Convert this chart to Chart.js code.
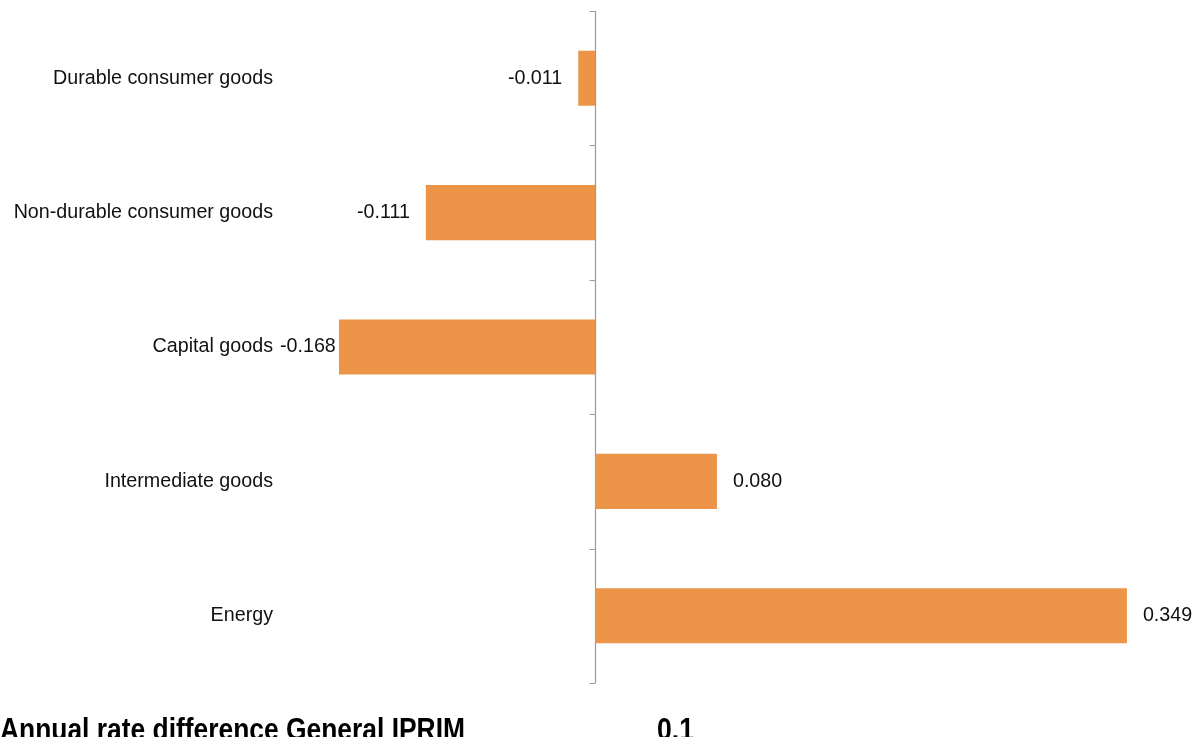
<!DOCTYPE html>
<html>
<head>
<meta charset="utf-8">
<script src="https://cdn.jsdelivr.net/npm/chart.js@4/dist/chart.umd.min.js"></script>
<style>
  html, body { margin: 0; padding: 0; background: #ffffff; overflow: hidden; }
  #wrap { position: relative; width: 1199px; height: 737px; }
</style>
</head>
<body>
<div id="wrap"><canvas id="c"></canvas></div>
<script>
// ---- data ----
const categories = [
  "Durable consumer goods",
  "Non-durable consumer goods",
  "Capital goods",
  "Intermediate goods",
  "Energy"
];
const values = [-0.011, -0.111, -0.168, 0.080, 0.349];
const footerLabel = "Annual rate difference General IPRIM";
const footerValue = "0.1";

const BAR_COLOR = "#EC9447";
const TEXT_FONT = "Liberation Sans, Arial, sans-serif";
const LABEL_SIZE = 19.7;

const zeroAxisPlugin = {
  id: "zeroAxis",
  beforeDatasetsDraw(chart) {
    const { ctx, chartArea, scales } = chart;
    const x0 = Math.round(scales.x.getPixelForValue(0)) + 0.5;
    ctx.save();
    ctx.strokeStyle = "#9a9a9a";
    ctx.lineWidth = 1.2;
    ctx.beginPath();
    ctx.moveTo(x0, chartArea.top);
    ctx.lineTo(x0, chartArea.bottom);
    const n = categories.length;
    const step = (chartArea.bottom - chartArea.top) / n;
    for (let i = 0; i <= n; i++) {
      const y = Math.round(chartArea.top + i * step) + 0.5;
      ctx.moveTo(x0 - 6, y);
      ctx.lineTo(x0, y);
    }
    ctx.stroke();
    ctx.restore();
  }
};

const valueLabelPlugin = {
  id: "valueLabels",
  afterDatasetsDraw(chart) {
    const { ctx, chartArea } = chart;
    const meta = chart.getDatasetMeta(0);
    ctx.save();
    ctx.font = LABEL_SIZE + "px " + TEXT_FONT;
    ctx.fillStyle = "#111111";
    ctx.textBaseline = "middle";
    const gap = 16;
    meta.data.forEach((bar, i) => {
      const v = values[i];
      const txt = v.toFixed(3);
      const w = ctx.measureText(txt).width;
      let xLeft;
      if (v < 0) {
        xLeft = bar.x - gap - w;
        if (xLeft < chartArea.left) xLeft = chartArea.left;
      } else {
        xLeft = bar.x + gap;
      }
      ctx.textAlign = "left";
      ctx.fillText(txt, xLeft, bar.y);
    });
    ctx.restore();
  }
};

const footerPlugin = {
  id: "footer",
  afterDraw(chart) {
    const { ctx } = chart;
    ctx.save();
    ctx.fillStyle = "#000000";
    ctx.textBaseline = "alphabetic";
    ctx.textAlign = "left";
    ctx.font = "bold 32px 'Liberation Sans Narrow', 'Arial Narrow', 'Liberation Sans', Arial, sans-serif";
    const drawFit = (txt, x, y, targetW) => {
      const w = ctx.measureText(txt).width;
      const sx = targetW / w;
      ctx.save();
      ctx.translate(x, y);
      ctx.scale(sx, 1);
      ctx.fillText(txt, 0, 0);
      ctx.restore();
    };
    drawFit(footerLabel, 0, 740, 465);
    drawFit(footerValue, 657, 740, 37);
    ctx.restore();
  }
};

new Chart(document.getElementById("c"), {
  type: "bar",
  data: {
    labels: categories,
    datasets: [{
      data: values,
      backgroundColor: BAR_COLOR,
      borderWidth: 0,
      categoryPercentage: 1.0,
      barPercentage: 0.41
    }]
  },
  options: {
    indexAxis: "y",
    responsive: true,
    maintainAspectRatio: false,
    animation: false,
    layout: { padding: { top: 11, bottom: 54, left: 0, right: 0 } },
    plugins: {
      legend: { display: false },
      tooltip: { enabled: false },
      title: { display: false }
    },
    scales: {
      x: {
        type: "linear",
        display: false,
        min: -0.2067,
        max: 0.3963
      },
      y: {
        type: "category",
        position: "left",
        grid: { display: false, drawTicks: false },
        border: { display: false },
        ticks: {
          color: "#111111",
          padding: 7,
          font: { family: TEXT_FONT, size: LABEL_SIZE }
        },
        afterFit(scale) {
          scale.width = 280;
          scale.paddingTop = 0;
          scale.paddingBottom = 0;
        }
      }
    }
  },
  plugins: [zeroAxisPlugin, valueLabelPlugin, footerPlugin]
});
</script>
</body>
</html>
